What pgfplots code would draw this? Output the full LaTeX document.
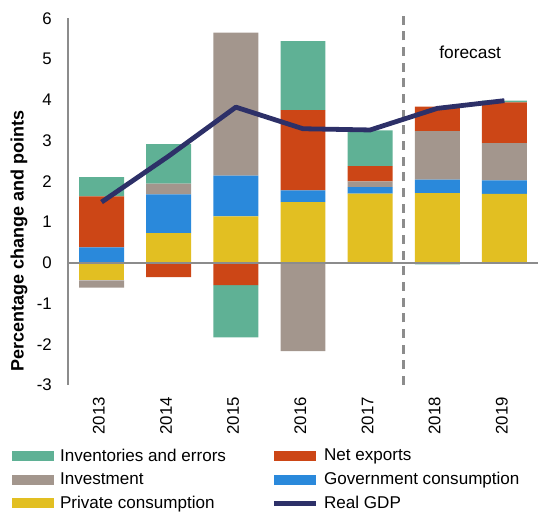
\documentclass[border=0pt]{standalone}
\usepackage{pgfplots}
\pgfplotsset{compat=1.18}
\usepackage{pgfplotstable}
\usepackage{fontspec}
\setmainfont{Liberation Sans}

\definecolor{cgreen}{RGB}{95,177,149}
\definecolor{cred}{RGB}{204,70,22}
\definecolor{cgrey}{RGB}{163,150,141}
\definecolor{cblue}{RGB}{42,137,219}
\definecolor{cyellow}{RGB}{226,191,34}
\definecolor{cnavy}{RGB}{45,48,104}
\definecolor{caxis}{RGB}{140,140,140}

% positive contributions
\pgfplotstableread{
x pc gc inv nx ie
0 0    0.38 0    1.25 0.47
1 0.73 0.95 0.26 0    0.97
2 1.14 1.00 3.51 0    0
3 1.49 0.29 0    1.97 1.69
4 1.70 0.16 0.14 0.37 0.88
5 1.71 0.33 1.19 0.60 0
6 1.69 0.33 0.92 1.00 0.04
}\postab

% negative contributions
\pgfplotstableread{
x pc gc inv nx ie
0 -0.43 0 -0.18 0     0
1 0     0 0     -0.35 0
2 0     0 0     -0.55 -1.28
3 0     0 -2.17 0     0
4 0     0 0     0     0
5 0     0 0     0     -0.04
6 0     0 0     0     0
}\negtab

\pgfplotstableread{
x gdp
0 1.49
1 2.62
2 3.82
3 3.29
4 3.26
5 3.79
6 3.98
}\gdptab

\pgfplotsset{
  base/.style={
    scale only axis, width=352.5pt, height=275pt,
    xmin=-0.5, xmax=6.5, ymin=-3, ymax=6,
    at={(0,0)}, anchor=south west,
    axis line style={draw=none}, tick style={draw=none},
    clip=false,
  },
  barax/.style={base, ybar stacked, bar width=0.67},
  boxlegend/.style={legend image code/.code={\fill[##1] (0pt,-3.75pt) rectangle (31.5pt,3.75pt);}},
  linelegend/.style={legend image code/.code={\draw[##1] (0pt,0pt) -- (31.5pt,0pt);}},
}

\begin{document}
\begin{tikzpicture}
\path[use as bounding box] (-51pt,-96.75pt) rectangle (357pt,288.75pt);

\begin{axis}[barax,
  xtick={0,...,6},
  xticklabels={2013,2014,2015,2016,2017,2018,2019},
  ytick={-3,-2,-1,0,1,2,3,4,5,6},
  yticklabels={-3,-2,-1,0,1,2,3,4,5,6},
  ticklabel style={font=\fontsize{12.6}{14}\selectfont},
  yticklabel style={anchor=east, inner sep=0pt, xshift=-12pt},
  xticklabel style={yshift=-9pt, xshift=-2pt, rotate=90, anchor=east, inner sep=0pt},
  ylabel={Percentage change and points},
  ylabel style={at={(axis description cs:-0.104,0.393)}, anchor=center, font=\bfseries\fontsize{13.5}{15}\selectfont},
  legend columns=2,
  legend cell align=left,
  legend style={at={(axis description cs:-0.1191,-0.167)}, anchor=north west,
    draw=none, fill=none, inner sep=0pt, outer sep=0pt,
    font=\fontsize{12.8}{14}\selectfont, row sep=3pt,
    /tikz/every odd column/.style={column sep=2.5pt},
    /tikz/every even column/.style={column sep=32.25pt}},
]
\addplot[fill=cyellow, draw=none, forget plot] table[x=x,y=pc]{\postab};
\addplot[fill=cblue, draw=none, forget plot] table[x=x,y=gc]{\postab};
\addplot[fill=cgrey, draw=none, forget plot] table[x=x,y=inv]{\postab};
\addplot[fill=cred, draw=none, forget plot] table[x=x,y=nx]{\postab};
\addplot[fill=cgreen, draw=none, forget plot] table[x=x,y=ie]{\postab};

\addlegendimage{boxlegend, fill=cgreen, draw=none}
\addlegendentry{Inventories and errors}
\addlegendimage{boxlegend, fill=cred, draw=none}
\addlegendentry{Net exports}
\addlegendimage{boxlegend, fill=cgrey, draw=none}
\addlegendentry{Investment}
\addlegendimage{boxlegend, fill=cblue, draw=none}
\addlegendentry{Government consumption}
\addlegendimage{boxlegend, fill=cyellow, draw=none}
\addlegendentry{Private consumption}
\addlegendimage{linelegend, color=cnavy, line width=3.3pt}
\addlegendentry{Real GDP}
\end{axis}

\begin{axis}[barax, xtick=\empty, ytick=\empty]
\addplot[fill=cyellow, draw=none] table[x=x,y=pc]{\negtab};
\addplot[fill=cblue, draw=none] table[x=x,y=gc]{\negtab};
\addplot[fill=cgrey, draw=none] table[x=x,y=inv]{\negtab};
\addplot[fill=cred, draw=none] table[x=x,y=nx]{\negtab};
\addplot[fill=cgreen, draw=none] table[x=x,y=ie]{\negtab};
\end{axis}

\begin{axis}[base, xtick=\empty, ytick=\empty]
\draw[caxis, line width=1.1pt] (axis cs:-0.5,-3) -- (axis cs:-0.5,6);
\draw[caxis, line width=1.1pt] (axis cs:-0.5,0) -- (axis cs:6.5,0);
\draw[caxis, line width=2pt, dash pattern=on 6.75pt off 5pt] (axis cs:4.5,-3) -- (axis cs:4.5,6.05);
\node[font=\fontsize{13}{15}\selectfont] at (axis cs:5.49,5.17) {forecast};
\addplot[color=cnavy, line width=3.6pt, line join=round, mark=none] table[x=x,y=gdp]{\gdptab};
\end{axis}
\end{tikzpicture}
\end{document}
